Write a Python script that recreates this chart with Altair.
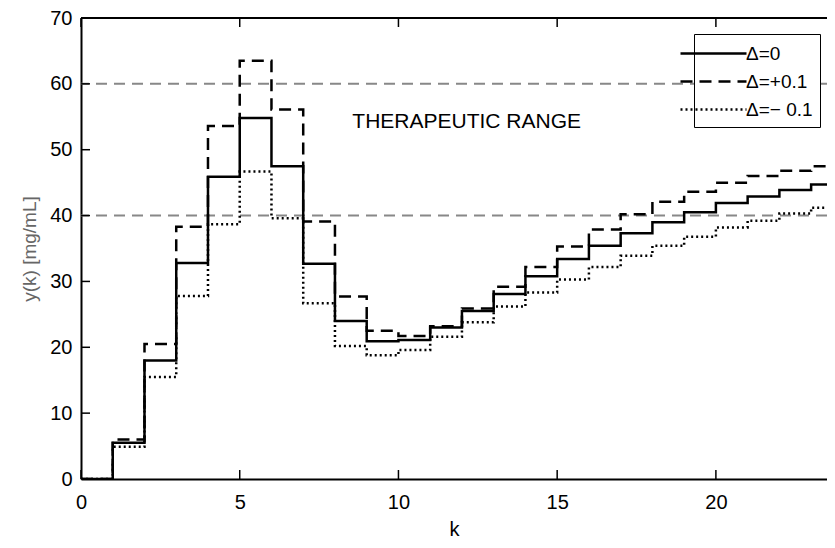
import altair as alt
import pandas as pd

# ---- data ----
k_values = list(range(0, 24))
y_delta0 = [0, 5.5, 18.0, 32.8, 45.9, 54.8, 47.5, 32.7, 24.0, 20.9, 21.1, 23.0,
            25.5, 28.1, 30.8, 33.4, 35.4, 37.3, 39.0, 40.5, 41.9, 42.9, 43.9, 44.7]
y_plus = [0, 6.0, 20.5, 38.3, 53.6, 63.5, 56.1, 39.1, 27.7, 22.5, 21.7, 23.2,
          25.9, 29.2, 32.2, 35.3, 37.9, 40.2, 42.1, 43.6, 45.0, 46.0, 46.8, 47.5]
y_minus = [0, 4.9, 15.5, 27.8, 38.7, 46.7, 39.6, 26.7, 20.2, 18.8, 19.6, 21.6,
           23.8, 26.2, 28.3, 30.3, 32.2, 33.9, 35.4, 36.8, 38.2, 39.2, 40.3, 41.2]
series_labels = ["\u0394=0", "\u0394=+0.1", "\u0394=\u2212 0.1"]
range_limits = [40, 60]
annotation = ["THERAPEUTIC RANGE"]
annotation_k = [12.15]
annotation_y = [53.3]
x_ticks = [0, 5, 10, 15, 20]
y_ticks = [0, 10, 20, 30, 40, 50, 60, 70]

rows = []
for name, ys in zip(series_labels, [y_delta0, y_plus, y_minus]):
    for k, v in zip(k_values, ys):
        rows.append({"k": k, "y": v, "series": name})
    rows.append({"k": 24, "y": ys[-1], "series": name})
df = pd.DataFrame(rows)

W, H = 746, 461
FONT = "Liberation Sans"

xscale = alt.Scale(domain=[0, 23.5], nice=False, zero=False)
yscale = alt.Scale(domain=[0, 70], nice=False, zero=False)
xaxis = alt.Axis(values=x_ticks, title="k", labelFlush=False)
yaxis = alt.Axis(values=y_ticks, title="y(k) [mg/mL]", labelFlush=False)

lines = alt.Chart(df).mark_line(
    interpolate="step-after", strokeWidth=2.5, color="black", clip=True,
    strokeCap="butt"
).encode(
    x=alt.X("k:Q", scale=xscale, axis=xaxis),
    y=alt.Y("y:Q", scale=yscale, axis=yaxis),
    strokeDash=alt.StrokeDash(
        "series:N",
        scale=alt.Scale(domain=series_labels, range=[[1, 0], [12, 7], [2, 3]]),
        legend=alt.Legend(
            title=None, orient="none", legendX=613, legendY=16,
            symbolType="M-3,0H3", symbolSize=484, symbolStrokeWidth=2.5,
            symbolStrokeColor="black", symbolFillColor="transparent",
            labelOffset=20, labelFont=FONT, labelFontSize=19, labelColor="black",
            rowPadding=5, padding=7, strokeColor="black", fillColor="white",
            cornerRadius=0,
        ),
    ),
)

hlines = alt.Chart(pd.DataFrame({"lim": range_limits})).mark_rule(
    color="#888888", strokeWidth=2, strokeDash=[11, 7]
).encode(y=alt.Y("lim:Q", scale=yscale, axis=yaxis))

ytick_marks = alt.Chart(pd.DataFrame({"t": y_ticks})).mark_rule(
    color="black", strokeWidth=1.5
).encode(y=alt.Y("t:Q", scale=yscale, axis=yaxis), x=alt.value(0), x2=alt.value(9))

xtick_bottom = alt.Chart(pd.DataFrame({"t": x_ticks})).mark_rule(
    color="black", strokeWidth=1.5
).encode(x=alt.X("t:Q", scale=xscale, axis=xaxis), y=alt.value(H), y2=alt.value(H - 9))

xtick_top = alt.Chart(pd.DataFrame({"t": x_ticks})).mark_rule(
    color="black", strokeWidth=1.5
).encode(x=alt.X("t:Q", scale=xscale, axis=xaxis), y=alt.value(0), y2=alt.value(9))

top_border = alt.Chart(pd.DataFrame({"t": [0]})).mark_rule(
    color="black", strokeWidth=2
).encode(x=alt.value(0), x2=alt.value(W), y=alt.value(0))

text = alt.Chart(pd.DataFrame({"label": annotation, "k": annotation_k, "y": annotation_y})).mark_text(
    font=FONT, fontSize=21, color="black", align="center", baseline="alphabetic"
).encode(
    x=alt.X("k:Q", scale=xscale, axis=xaxis),
    y=alt.Y("y:Q", scale=yscale, axis=yaxis),
    text="label:N",
)

chart = alt.layer(hlines, lines, ytick_marks, xtick_bottom, xtick_top, top_border, text).properties(
    width=W, height=H,
    padding={"left": 73, "top": 10, "right": 0, "bottom": 60},
    autosize=alt.AutoSizeParams(type="none"),
).configure_axis(
    labelFont=FONT, labelFontSize=20, labelColor="black",
    titleFont=FONT, titleFontWeight="normal",
    ticks=False, domain=True, domainColor="black", domainWidth=2, grid=False,
).configure_axisX(
    labelPadding=13, titlePadding=7, titleFontSize=20, titleColor="black",
).configure_axisY(
    labelPadding=9, titlePadding=10, titleFontSize=19, titleColor="#666666",
).configure_view(stroke=None)

chart.save("out.html", embed_options={"renderer": "svg", "actions": False})
